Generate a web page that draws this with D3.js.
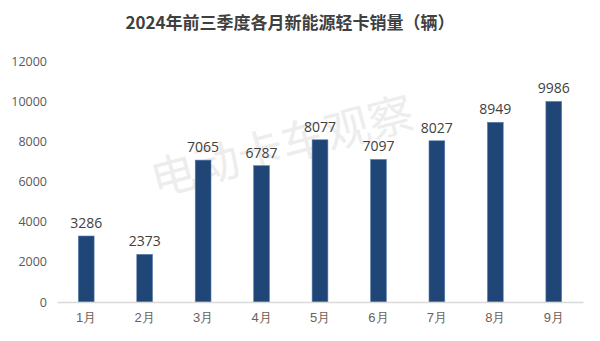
<!DOCTYPE html>
<html>
<head>
<meta charset="utf-8">
<script src="https://cdn.jsdelivr.net/npm/d3@7"></script>
<style>
  html, body { margin: 0; padding: 0; background: #fff; }
  svg { display: block; font-family: "Noto Sans CJK SC", "Open Sans", sans-serif; }
</style>
</head>
<body>
<svg id="chart" width="600" height="341"></svg>
<script>
// Monthly sales of new-energy light trucks, Jan–Sep 2024
const months = ["1月", "2月", "3月", "4月", "5月", "6月", "7月", "8月", "9月"];
const sales = [3286, 2373, 7065, 6787, 8077, 7097, 8027, 8949, 9986];
const yTicks = [0, 2000, 4000, 6000, 8000, 10000, 12000];

const svg = d3.select("#chart");
const W = 600, H = 341;
const margin = { left: 57, right: 17, top: 61, bottom: 39 };

const x = d3.scaleBand()
  .domain(months)
  .range([margin.left, W - margin.right])
  .paddingInner(0.73)
  .paddingOuter(0.365);

const y = d3.scaleLinear()
  .domain([0, 12000])
  .range([H - margin.bottom, margin.top]);

// Title
svg.append("text")
  .attr("x", 290)
  .attr("y", 29)
  .attr("text-anchor", "middle")
  .attr("font-size", 17)
  .attr("font-weight", "bold")
  .attr("fill", "#404040")
  .text("2024年前三季度各月新能源轻卡销量（辆）");

// Watermark
svg.append("text")
  .attr("transform", "translate(283,150) rotate(-15)")
  .attr("text-anchor", "middle")
  .attr("dominant-baseline", "middle")
  .attr("font-size", 45)
  .attr("fill", "#ededed")
  .text("电动卡车观察");

// Y axis (labels only)
const yAxis = d3.axisLeft(y).tickValues(yTicks).tickFormat(d3.format("d")).tickSize(0).tickPadding(10);
const gy = svg.append("g")
  .attr("transform", `translate(${margin.left},0)`)
  .call(yAxis);
gy.select(".domain").remove();
gy.selectAll("text")
  .attr("font-size", 12.5)
  .attr("fill", "#595959")
  .attr("font-family", "Open Sans, sans-serif");

// Bars
svg.append("g")
  .selectAll("rect")
  .data(months)
  .join("rect")
  .attr("x", d => x(d))
  .attr("y", (d, i) => y(sales[i]))
  .attr("width", x.bandwidth())
  .attr("height", (d, i) => y(0) - y(sales[i]))
  .attr("fill", "#1f4677")
  .attr("stroke", "#5b7fae")
  .attr("stroke-width", 0.6);

// Value labels
svg.append("g")
  .selectAll("text")
  .data(months)
  .join("text")
  .attr("x", d => x(d) + x.bandwidth() / 2)
  .attr("y", (d, i) => y(sales[i]) - 8)
  .attr("text-anchor", "middle")
  .attr("font-size", 14)
  .attr("fill", "#404040")
  .attr("font-family", "Open Sans, sans-serif")
  .text((d, i) => sales[i]);

// X axis
const xAxis = d3.axisBottom(x).tickSize(0).tickPadding(11);
const gx = svg.append("g")
  .attr("transform", `translate(0,${y(0)})`)
  .call(xAxis);
gx.select(".domain").attr("stroke", "#d9d9d9").attr("stroke-width", 1.5);
gx.selectAll("text")
  .attr("font-size", 13)
  .attr("fill", "#6b6158");
</script>
</body>
</html>
